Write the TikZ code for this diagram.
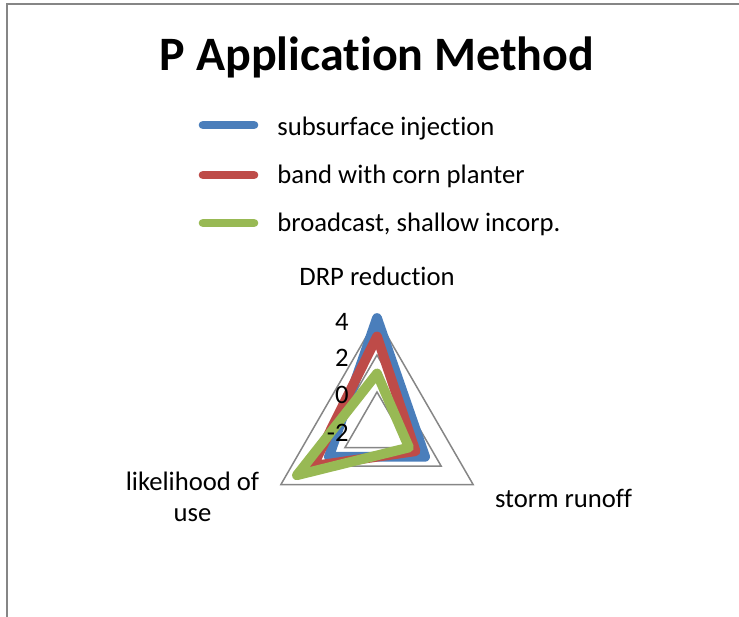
\documentclass[tikz,border=0pt]{standalone}
\usepackage{fontspec}
\setmainfont{Carlito}[Ligatures={NoCommon}]
\definecolor{serBlue}{HTML}{4A7EBB}
\definecolor{serRed}{HTML}{BE4B48}
\definecolor{serGreen}{HTML}{98B954}
\definecolor{gridGray}{HTML}{868686}
\begin{document}
\begin{tikzpicture}[x=0.5pt,y=-0.5pt,
  lbl/.style={inner sep=0pt,font=\fontsize{13.33}{16}\selectfont},
  ttl/.style={inner sep=0pt,font=\fontsize{24}{28}\selectfont\bfseries},
  gridline/.style={draw=gridGray,line width=0.75pt,line join=miter},
  series/.style={line width=4.9pt,line join=round,line cap=round},
  legline/.style={line width=4.3pt,line cap=round},
  frameline/.style={draw=gridGray,line width=1.1pt}]
\useasboundingbox (0,0) rectangle (739,616);
% frame
\coordinate (fbl) at (7,617);
\coordinate (ftl) at (7,4);
\coordinate (ftr) at (740,4);
\draw[frameline] (fbl) -- (ftl) -- (ftr);
% title
\node[ttl,anchor=base] (title) at (377,70) {P Application Method};
% legend
\coordinate (lb1) at (203,125); \coordinate (lb2) at (254,125);
\coordinate (lr1) at (203,175); \coordinate (lr2) at (254,175);
\coordinate (lg1) at (203,223); \coordinate (lg2) at (254,223);
\draw[legline,serBlue] (lb1) -- (lb2);
\draw[legline,serRed] (lr1) -- (lr2);
\draw[legline,serGreen] (lg1) -- (lg2);
\node[lbl,anchor=base west] (tb) at (277,135) {subsurface injection};
\node[lbl,anchor=base west] (tr) at (277,183) {band with corn planter};
\node[lbl,anchor=base west] (tg) at (277,231) {broadcast, shallow incorp.};
% grid triangles
\coordinate (g4t) at (377,318);   \coordinate (g4r) at (473.1,484.5); \coordinate (g4l) at (280.9,484.5);
\coordinate (g2t) at (377,355);   \coordinate (g2r) at (441.1,466);   \coordinate (g2l) at (312.9,466);
\coordinate (g0t) at (377,392);   \coordinate (g0r) at (409.0,447.5); \coordinate (g0l) at (345.0,447.5);
\draw[gridline] (g4t) -- (g4r) -- (g4l) -- cycle;
\draw[gridline] (g2t) -- (g2r) -- (g2l) -- cycle;
\draw[gridline] (g0t) -- (g0r) -- (g0l) -- cycle;
% series
\coordinate (bt) at (377,318);   \coordinate (br) at (425.1,456.75); \coordinate (bl) at (328.9,456.75);
\coordinate (rt) at (377,336.5); \coordinate (rr) at (415.5,451.2);  \coordinate (rl) at (312.9,466);
\coordinate (gt) at (377,373.5); \coordinate (gr) at (409.0,447.5);  \coordinate (gl) at (296.9,475.25);
\draw[series,serBlue] (bt) -- (br) -- (bl) -- cycle;
\draw[series,serRed] (rt) -- (rr) -- (rl) -- cycle;
\draw[series,serGreen] (gt) -- (gr) -- (gl) -- cycle;
% tick labels
\node[lbl,anchor=base east] (t4) at (349,330) {4};
\node[lbl,anchor=base east] (t2) at (349,366.7) {2};
\node[lbl,anchor=base east] (t0) at (349,403.4) {0};
\node[lbl,anchor=base east] (tm2) at (349,441.5) {-2};
% axis labels
\node[lbl,anchor=base] (drp) at (377,285.5) {DRP reduction};
\node[lbl,anchor=base] (storm) at (563.5,507) {storm runoff};
\node[lbl,anchor=base] (like1) at (192.5,490) {likelihood of};
\node[lbl,anchor=base] (like2) at (192.5,521.5) {use};
\end{tikzpicture}
\end{document}
